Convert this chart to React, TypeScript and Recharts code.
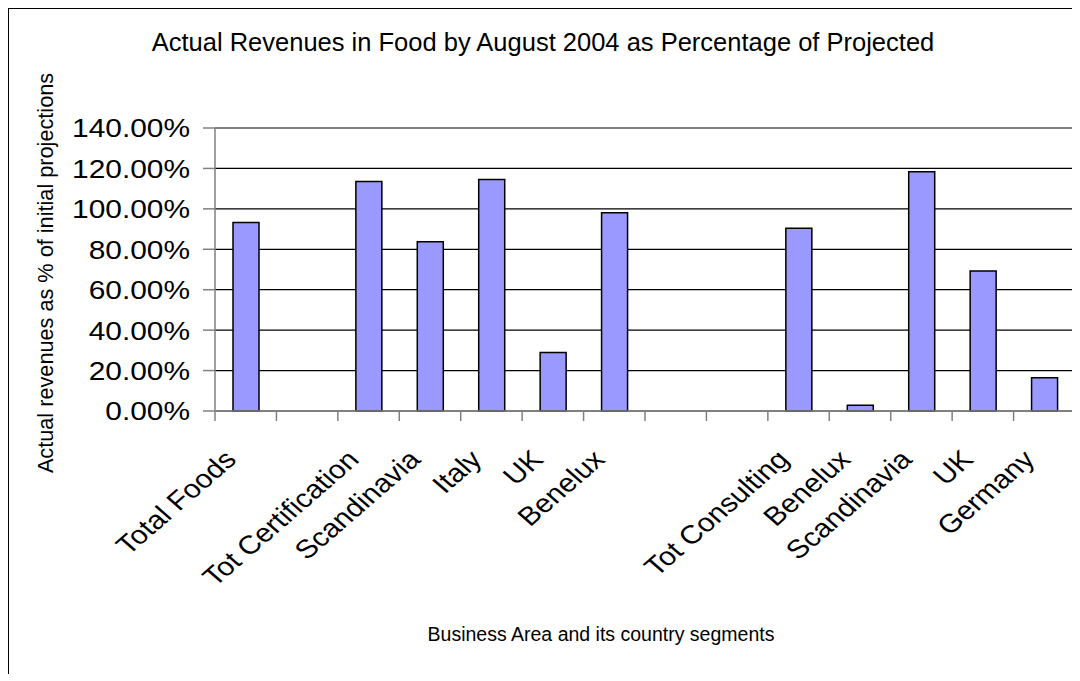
import React from 'react';
import { BarChart, Bar, XAxis, YAxis, CartesianGrid, Label } from 'recharts';

const categories = [
  'Total Foods',
  '',
  'Tot Certification',
  'Scandinavia',
  'Italy',
  'UK',
  'Benelux',
  '',
  '',
  'Tot Consulting',
  'Benelux',
  'Scandinavia',
  'UK',
  'Germany',
];
const values: (number | null)[] = [93.3, null, 113.5, 83.7, 114.5, 28.9, 98.1, null, null, 90.4, 2.9, 118.3, 69.3, 16.4];
const yTicks = [0, 20, 40, 60, 80, 100, 120, 140];

const title = 'Actual Revenues in Food by August 2004 as Percentage of Projected';
const yTitle = 'Actual revenues as % of initial projections';
const xTitle = 'Business Area and its country segments';

const data = categories.map((name, i) => ({ name, value: values[i] }));

const FONT = '"Liberation Sans", Arial, sans-serif';
const W = 1071;
const H = 664;
const margin = { top: 119, right: 5, bottom: 22, left: 0 };
const Y_AXIS_W = 206;
const plotW = W - margin.left - margin.right - Y_AXIS_W;
// the original's text is drawn a little wider than tall
const STRETCH = 1.15;

const XTick = (props: any) => {
  const { x, y, payload, index } = props;
  const band = plotW / categories.length;
  const ax = x - 8;
  const ay = y + 50;
  return (
    <g>
      <line x1={x - band / 2} x2={x - band / 2} y1={y} y2={y + 10} stroke="#808080" strokeWidth={1.5} />
      {index === categories.length - 1 && (
        <line x1={x + band / 2} x2={x + band / 2} y1={y} y2={y + 10} stroke="#808080" strokeWidth={1.5} />
      )}
      <text
        x={0}
        y={0}
        textAnchor="end"
        transform={`translate(${ax}, ${ay}) scale(${STRETCH}, 1) rotate(-45)`}
        fontSize={26}
        fontFamily={FONT}
        fill="#000"
      >
        {payload.value}
      </text>
    </g>
  );
};

const YTick = (props: any) => {
  const { x, y, payload, tickFormatter } = props;
  const label = tickFormatter ? tickFormatter(payload.value) : payload.value;
  return (
    <text
      x={0}
      y={0}
      dy="0.36em"
      textAnchor="end"
      transform={`translate(${x}, ${y}) scale(${STRETCH}, 1)`}
      fontSize={26}
      fontFamily={FONT}
      fill="#000"
    >
      {label}
    </text>
  );
};

const YTitle = (props: any) => {
  const { viewBox } = props;
  const cx = viewBox.x + 36;
  const cy = viewBox.y + viewBox.height / 2 + 3.5;
  return (
    <text
      x={cx}
      y={cy}
      textAnchor="middle"
      dominantBaseline="central"
      transform={`rotate(-90, ${cx}, ${cy})`}
      fontSize={21.7}
      fontFamily={FONT}
      fill="#000"
    >
      {yTitle}
    </text>
  );
};

const XTitle = (props: any) => {
  const { viewBox } = props;
  return (
    <text
      x={viewBox.x + viewBox.width / 2 - 44}
      y={viewBox.y + 230}
      textAnchor="middle"
      fontSize={19.5}
      fontFamily={FONT}
      fill="#000"
    >
      {xTitle}
    </text>
  );
};

export default function App() {
  return (
    <div
      style={{
        position: 'relative',
        width: 1071,
        height: 665,
        borderLeft: '1px solid #000',
        borderTop: '1px solid #000',
        overflow: 'hidden',
        background: '#fff',
      }}
    >
      <style>{'html,body{overflow:hidden}'}</style>
      <div
        style={{
          position: 'absolute',
          left: 0,
          width: 1068,
          top: 19,
          textAlign: 'center',
          fontFamily: FONT,
          fontSize: 25.5,
          color: '#000',
          whiteSpace: 'nowrap',
        }}
      >
        {title}
      </div>
      <BarChart width={W} height={H} data={data} margin={margin} barSize={26}>
        <CartesianGrid vertical={false} stroke="#000" strokeWidth={1.2} />
        <CartesianGrid
          vertical={false}
          stroke="#808080"
          strokeWidth={1.5}
          horizontalCoordinatesGenerator={({ offset }: any) => [offset.top]}
        />
        <CartesianGrid
          horizontal={false}
          stroke="#808080"
          strokeWidth={1.5}
          verticalCoordinatesGenerator={({ offset }: any) => [offset.left + offset.width]}
        />
        <XAxis
          dataKey="name"
          interval={0}
          tickLine={false}
          tickSize={0}
          tickMargin={0}
          height={240}
          stroke="#808080"
          strokeWidth={1.5}
          tick={<XTick />}
        >
          <Label content={<XTitle />} />
        </XAxis>
        <YAxis
          domain={[0, 140]}
          ticks={yTicks}
          width={Y_AXIS_W}
          tickSize={12}
          tickMargin={13}
          stroke="#808080"
          strokeWidth={1.5}
          tick={<YTick />}
          tickFormatter={(v: number) => `${v.toFixed(2)}%`}
          interval={0}
        >
          <Label content={<YTitle />} />
        </YAxis>
        <Bar dataKey="value" fill="#9999FF" stroke="#000" strokeWidth={1.5} isAnimationActive={false} />
      </BarChart>
    </div>
  );
}
